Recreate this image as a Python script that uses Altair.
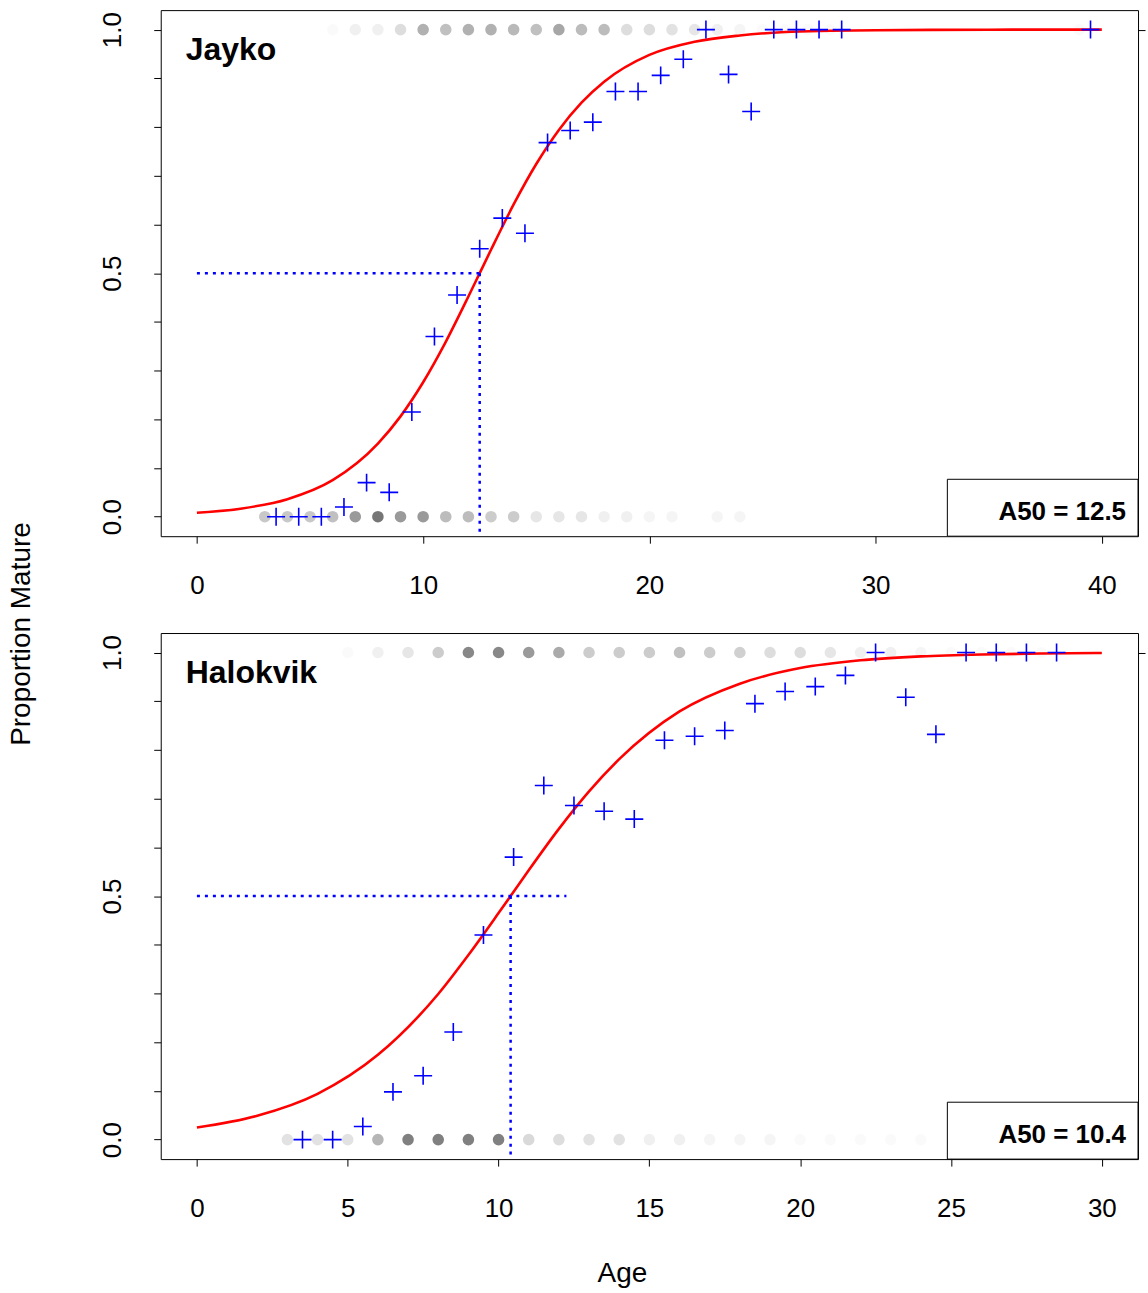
import altair as alt
import pandas as pd

FONT = "Liberation Sans"

SITES = ["Jayko", "Halokvik"]
A50 = [12.5, 10.4]
X_MAX = [40, 30]
X_TICKS = [[0, 10, 20, 30, 40], [0, 5, 10, 15, 20, 25, 30]]
H_LINE_END = [12.5, 12.25]
Y_TICKS = [0.0, 0.1, 0.2, 0.3, 0.4, 0.5, 0.6, 0.7, 0.8, 0.9, 1.0]
RIGHT_TICKS = [1.0]

# observed proportion mature (blue crosses)
jay_prop_age = [3.5, 4.5, 5.5, 6.5, 7.5, 8.5, 9.5, 10.5, 11.5, 12.5, 13.5, 14.5, 15.5,
                16.5, 17.5, 18.5, 19.5, 20.5, 21.5, 22.5, 23.5, 24.5, 25.5, 26.5, 27.5,
                28.5, 39.5]
jay_prop = [0.0, 0.0, 0.0, 0.02, 0.07, 0.05, 0.215, 0.37, 0.455, 0.55, 0.613, 0.582, 0.768,
            0.793, 0.81, 0.873, 0.873, 0.906, 0.939, 1.0, 0.908, 0.832, 1.0, 1.0, 1.0,
            1.0, 1.0]
hal_prop_age = [3.5, 4.5, 5.5, 6.5, 7.5, 8.5, 9.5, 10.5, 11.5, 12.5, 13.5, 14.5, 15.5,
                16.5, 17.5, 18.5, 19.5, 20.5, 21.5, 22.5, 23.5, 24.5, 25.5, 26.5, 27.5,
                28.5]
hal_prop = [0.0, 0.0, 0.027, 0.098, 0.131, 0.221, 0.42, 0.58, 0.727, 0.686, 0.674, 0.658,
            0.82, 0.828, 0.84, 0.895, 0.92, 0.93, 0.953, 1.0, 0.908, 0.832, 1.0, 1.0, 1.0,
            1.0]

# raw fish (grey dots): counts of immature (y=0) and mature (y=1) at age
jay_imm_age = [3, 4, 5, 6, 7, 8, 9, 10, 11, 12, 13, 14, 15, 16, 17, 18, 19, 20, 21, 23, 24]
jay_imm_n = [12, 12, 12, 14, 25, 38, 25, 25, 15, 15, 11, 11, 5, 5, 5, 3, 3, 2, 2, 2, 2]
jay_mat_age = [6, 7, 8, 9, 10, 11, 12, 13, 14, 15, 16, 17, 18, 19, 20, 21, 22, 23, 24,
               25, 26, 27, 28, 39]
jay_mat_n = [1, 3, 3, 7, 18, 14, 18, 18, 16, 14, 21, 15, 15, 7, 7, 6, 5, 3, 2,
             1, 1, 1, 1, 1]
hal_imm_age = [3, 4, 5, 6, 7, 8, 9, 10, 11, 12, 13, 14, 15, 16, 17, 18, 19, 20, 21, 22, 23, 24]
hal_imm_n = [6, 6, 6, 17, 34, 34, 34, 34, 8, 7, 6, 6, 3, 3, 2, 2, 2, 1, 1, 1, 1, 1]
hal_mat_age = [5, 6, 7, 8, 9, 10, 11, 12, 13, 14, 15, 16, 17, 18, 19, 20, 21, 22, 23, 24,
               25, 26, 27, 28]
hal_mat_n = [1, 3, 5, 11, 31, 31, 25, 20, 11, 11, 11, 14, 11, 10, 7, 7, 5, 3, 3, 2,
             1, 1, 1, 1]

# fitted logistic curves
jay_curve_age = [0, 2, 4, 6, 8, 9, 10, 11, 12, 12.5, 13, 14, 15, 16, 17, 18, 20, 22, 24,
                 26, 28, 30, 35, 40]
jay_curve_p = [0.008, 0.017, 0.036, 0.075, 0.150, 0.206, 0.276, 0.359, 0.452, 0.5, 0.548,
               0.641, 0.724, 0.794, 0.850, 0.893, 0.948, 0.975, 0.988, 0.995, 0.9975,
               0.9988, 0.9998, 1.0]
hal_curve_age = [0, 2, 4, 6, 8, 9, 10, 10.4, 11, 12, 13, 14, 16, 18, 20, 22, 24, 26, 28, 30]
hal_curve_p = [0.025, 0.049, 0.094, 0.174, 0.299, 0.379, 0.465, 0.5, 0.553, 0.638, 0.715,
               0.781, 0.879, 0.936, 0.968, 0.984, 0.992, 0.996, 0.998, 0.999]

PANELS = [
    (jay_prop_age, jay_prop, jay_imm_age, jay_imm_n, jay_mat_age, jay_mat_n,
     jay_curve_age, jay_curve_p),
    (hal_prop_age, hal_prop, hal_imm_age, hal_imm_n, hal_mat_age, hal_mat_n,
     hal_curve_age, hal_curve_p),
]

PW, PH = 979, 527
CROSS = "M -1 0 L 1 0 M 0 -1 L 0 1"


def panel(i):
    prop_age, prop, imm_age, imm_n, mat_age, mat_n, c_age, c_p = PANELS[i]
    xmax = X_MAX[i]
    xs = alt.Scale(domain=[-0.04 * xmax, 1.04 * xmax], nice=False, zero=False)
    ys = alt.Scale(domain=[-0.04, 1.04], nice=False, zero=False)
    last = i == len(SITES) - 1
    x_axis = alt.Axis(values=X_TICKS[i], format="d", grid=False, domain=False,
                      tickSize=7, tickColor="black", labelColor="black",
                      labelFontSize=26, labelPadding=29, labelFont=FONT,
                      labelFlush=False,
                      title="Age" if last else None, titleFontSize=28,
                      titleFontWeight="normal", titleFont=FONT, titlePadding=39,
                      titleColor="black", titleX=462)
    y_axis = alt.Axis(values=Y_TICKS, grid=False, domain=False, tickSize=7,
                      tickColor="black", labelColor="black", labelFontSize=26,
                      labelFont=FONT, labelAngle=-90, labelPadding=28,
                      labelFlush=False, labelOverlap=False,
                      labelExpr="datum.value == 0 ? '0.0' : (datum.value == 0.5 ? '0.5' : (datum.value == 1 ? '1.0' : ''))",
                      title=None)
    y_right = alt.Axis(orient="right", values=RIGHT_TICKS, grid=False, domain=False,
                       tickSize=7, tickColor="black", labels=False, title=None)

    dots_df = pd.DataFrame({
        "age": list(imm_age) + list(mat_age),
        "y": [0.0] * len(imm_age) + [1.0] * len(mat_age),
        "n": list(imm_n) + list(mat_n),
    })
    dots = alt.Chart(dots_df).transform_calculate(
        op="1 - pow(0.98, datum.n)"
    ).mark_circle(size=135, color="black").encode(
        x=alt.X("age:Q", scale=xs, axis=x_axis),
        y=alt.Y("y:Q", scale=ys, axis=y_axis),
        opacity=alt.Opacity("op:Q", scale=None, legend=None),
    )

    curve_df = pd.DataFrame({"age": c_age, "p": c_p})
    curve = alt.Chart(curve_df).mark_line(color="#ff0000", strokeWidth=2.6,
                                          interpolate="monotone").encode(
        x=alt.X("age:Q", scale=xs),
        y=alt.Y("p:Q", scale=ys, axis=y_right))

    h_df = pd.DataFrame({"x": [0.0], "x2": [H_LINE_END[i]], "y": [0.5]})
    hline = alt.Chart(h_df).mark_rule(color="#0000ff", strokeWidth=2.5,
                                      strokeDash=[3, 5]).encode(
        x=alt.X("x:Q", scale=xs), x2="x2:Q", y=alt.Y("y:Q", scale=ys, axis=None))
    v_df = pd.DataFrame({"x": [A50[i]], "y": [0.5], "y2": [-0.04]})
    vline = alt.Chart(v_df).mark_rule(color="#0000ff", strokeWidth=2.5,
                                      strokeDash=[3, 5]).encode(
        x=alt.X("x:Q", scale=xs), y=alt.Y("y:Q", scale=ys, axis=None), y2="y2:Q")

    prop_df = pd.DataFrame({"age": prop_age, "p": prop})
    crosses = alt.Chart(prop_df).mark_point(shape=CROSS, size=324, filled=False,
                                            color="#0000ff", strokeWidth=1.6,
                                            opacity=1).encode(
        x=alt.X("age:Q", scale=xs), y=alt.Y("p:Q", scale=ys, axis=None))

    lab_df = pd.DataFrame({"site": [SITES[i]],
                           "a50": ["A50 = %.1f" % A50[i]]})
    box = alt.Chart(lab_df).mark_rect(fill="white", stroke="black",
                                      strokeWidth=1).encode(
        x=alt.value(788), x2=alt.value(PW), y=alt.value(470), y2=alt.value(PH))
    a50_text = alt.Chart(lab_df).mark_text(align="right", baseline="middle",
                                           fontSize=26, fontWeight="bold",
                                           font=FONT, color="black").encode(
        x=alt.value(967), y=alt.value(503), text="a50:N")
    site_text = alt.Chart(lab_df).mark_text(align="left", baseline="middle",
                                            fontSize=32, fontWeight="bold",
                                            font=FONT, color="black").encode(
        x=alt.value(25), y=alt.value(40), text="site:N")

    return alt.layer(dots, curve, hline, vline, crosses, box, a50_text,
                     site_text).resolve_axis(y="independent").properties(
        width=PW, height=PH)


chart = alt.vconcat(
    panel(0), panel(1), spacing=97, bounds="flush"
).properties(
    title=alt.TitleParams("Proportion Mature", orient="left", anchor="middle",
                          fontSize=28, fontWeight="normal", font=FONT,
                          color="black", offset=63, dx=15),
    padding={"left": 8, "top": 8, "right": 2, "bottom": 5},
).configure(background="white").configure_view(stroke="black", strokeWidth=1)

chart.save("out.html", embed_options={"renderer": "svg", "actions": False})
